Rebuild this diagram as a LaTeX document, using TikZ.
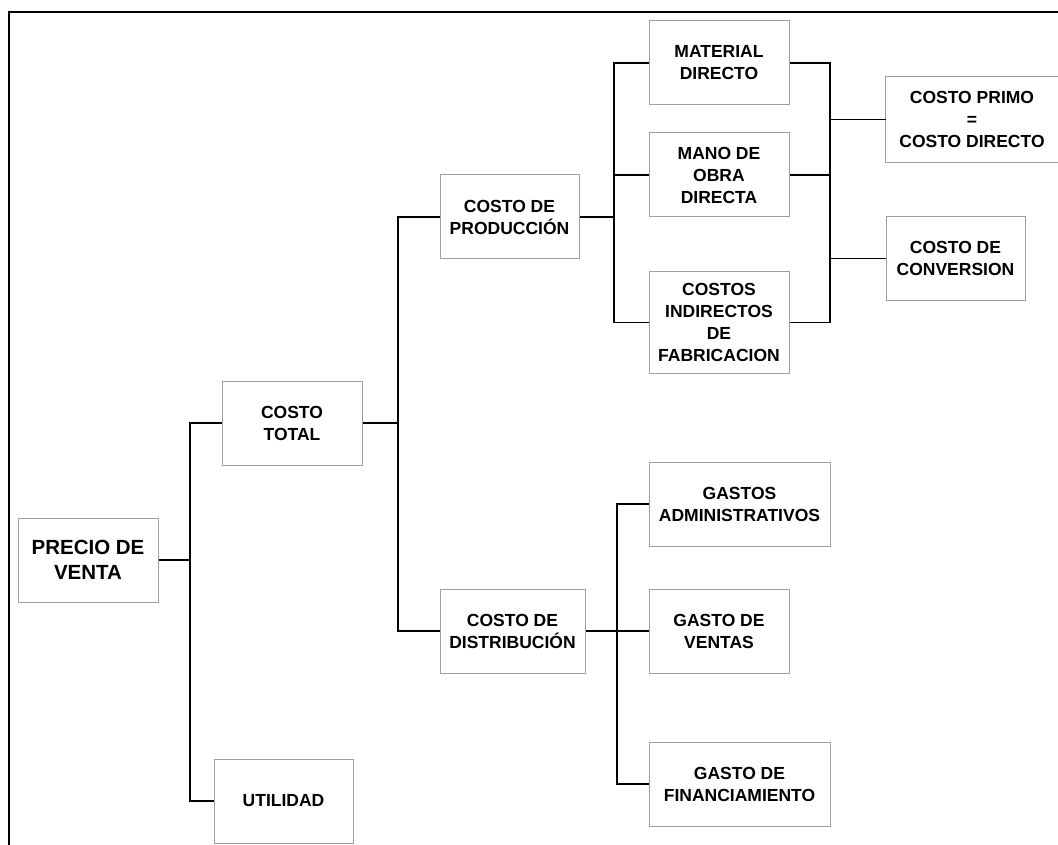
\documentclass[tikz,border=0pt]{standalone}
\usepackage{fontspec}
\setmainfont{Liberation Sans}
\definecolor{boxgray}{HTML}{A0A0A0}
\begin{document}
\begin{tikzpicture}[x=1pt,y=-1pt,
  costbox/.style={draw=boxgray, line width=1pt, fill=white, inner sep=0pt,
    align=center, font=\bfseries\fontsize{17.5}{22}\selectfont},
  boxedge/.style={draw=boxgray, line width=1pt},
  wire/.style={draw=black, line width=1.5pt},
  frameline/.style={draw=black, line width=2pt}]
\useasboundingbox (0,0) rectangle (1058,845);

% outer frame (top and left edges)
\draw[frameline] (9,900) -- (9,12) -- (1100,12);

% boxes
\node[costbox, minimum width=140pt, minimum height=84pt,
  font=\bfseries\fontsize{20.5}{24.7}\selectfont] (pv) at (88,560) {PRECIO DE\\VENTA};
\node[costbox, minimum width=140pt, minimum height=84pt] (total) at (292,423) {COSTO\\TOTAL};
\node[costbox, minimum width=139pt, minimum height=84pt] (util) at (283.5,801) {UTILIDAD};
\node[costbox, minimum width=139pt, minimum height=84pt] (prod) at (509.5,217) {COSTO DE\\PRODUCCIÓN};
\node[costbox, minimum width=145pt, minimum height=84pt] (dist) at (512.5,631) {COSTO DE\\DISTRIBUCIÓN};
\node[costbox, minimum width=140pt, minimum height=84pt] (mat) at (719,63) {MATERIAL\\DIRECTO};
\node[costbox, minimum width=140pt, minimum height=84pt] (mano) at (719,175) {MANO DE\\OBRA\\DIRECTA};
\node[costbox, minimum width=140pt, minimum height=101pt] (cif) at (719,322.5) {COSTOS\\INDIRECTOS\\DE\\FABRICACION};
% this box runs past the right margin, so only three sides are drawn
\node[costbox, draw=none, minimum width=172pt, minimum height=85pt] (primo) at (972,119.5) {COSTO PRIMO\\=\\COSTO DIRECTO};
\draw[boxedge] (primo.north east) ++(30,0) -- (primo.north west) -- (primo.south west) -- ++(220,0);
\node[costbox, minimum width=139pt, minimum height=83pt] (conv) at (955.5,258.5) {COSTO DE\\CONVERSION};
\node[costbox, minimum width=181pt, minimum height=84pt] (adm) at (739.5,504) {GASTOS\\ADMINISTRATIVOS};
\node[costbox, minimum width=140pt, minimum height=84pt] (ventas) at (719,631) {GASTO DE\\VENTAS};
\node[costbox, minimum width=181pt, minimum height=84pt] (fin) at (739.5,784) {GASTO DE\\FINANCIAMIENTO};

% vertical bus positions
\coordinate (bus1) at (190,0);
\coordinate (bus2) at (398,0);
\coordinate (bus3) at (614,0);
\coordinate (bus4) at (830,0);
\coordinate (bus5) at (617,0);

% precio de venta -> costo total / utilidad
\draw[wire] (pv.east) -- (pv.east -| bus1);
\draw[wire] (total.west) -| (bus1 |- util.west) -- (util.west);

% costo total -> produccion / distribucion
\draw[wire] (total.east) -- (total.east -| bus2);
\draw[wire] (prod.west) -| (bus2 |- dist.west) -- (dist.west);

% costo de produccion -> elementos
\draw[wire] (prod.east) -- (prod.east -| bus3);
\draw[wire] (mat.west) -| (bus3 |- cif.west) -- (cif.west);
\draw[wire] (mano.west) -- (mano.west -| bus3);

% elementos -> costo primo / costo de conversion
\draw[wire] (mat.east) -| (bus4 |- cif.east) -- (cif.east);
\draw[wire] (mano.east) -- (mano.east -| bus4);
\draw[wire] (primo.west) -- (primo.west -| bus4);
\draw[wire] (conv.west) -- (conv.west -| bus4);

% costo de distribucion -> gastos
\draw[wire] (dist.east) -- (dist.east -| bus5);
\draw[wire] (adm.west) -| (bus5 |- fin.west) -- (fin.west);
\draw[wire] (ventas.west) -- (ventas.west -| bus5);
\end{tikzpicture}
\end{document}
